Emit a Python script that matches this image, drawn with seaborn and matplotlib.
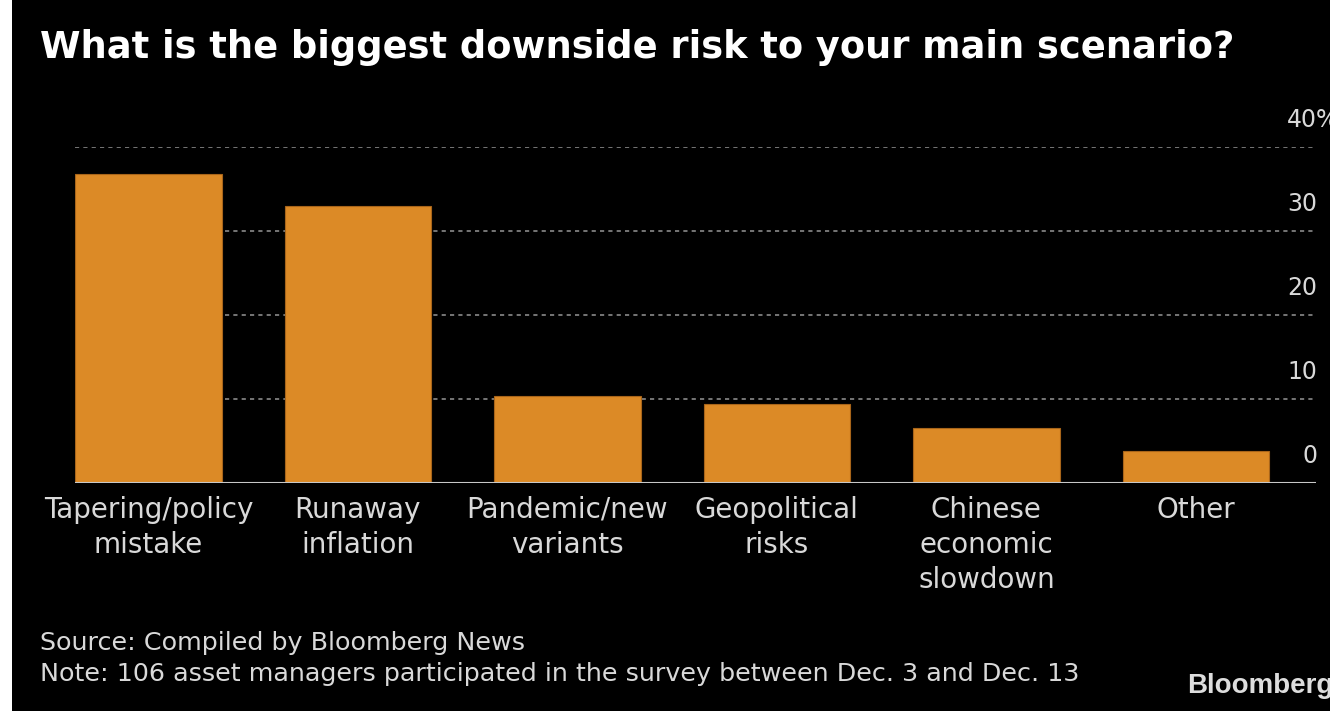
import matplotlib
matplotlib.use("Agg")
import matplotlib.pyplot as plt
import matplotlib.patches as mpatches
import matplotlib.transforms as mtrans
import seaborn as sns
import pandas as pd

categories = ["Tapering/policy\nmistake", "Runaway\ninflation", "Pandemic/new\nvariants",
              "Geopolitical\nrisks", "Chinese\neconomic\nslowdown", "Other"]
values = [36.8, 33.0, 10.4, 9.4, 6.6, 3.8]
yticks = [0, 10, 20, 30, 40]
ytick_labels = ["0", "10", "20", "30", "40%"]

title = "What is the biggest downside risk to your main scenario?"
source = "Source: Compiled by Bloomberg News"
note = "Note: 106 asset managers participated in the survey between Dec. 3 and Dec. 13"

sns.set_theme(style="dark")
plt.rcParams["font.family"] = ["DejaVu Sans"]

BG = "#000000"
BAR = "#dc8a26"
TXT = "#d9d9d9"

fig = plt.figure(figsize=(13.3, 7.11), dpi=100, facecolor=BG)
ax = fig.add_axes([75/1330, 228/711, (1316-75)/1330, 336/711])
ax.set_facecolor(BG)

df = pd.DataFrame({"cat": categories, "val": values})
sns.barplot(data=df, x="cat", y="val", color=BAR, width=0.70, saturation=1,
            edgecolor="#a8651a", linewidth=0.8, ax=ax, zorder=3)

ax.set_xlim(-0.35, 5.573)
ax.set_ylim(0, 40)
ax.set_xlabel("")
ax.set_ylabel("")
for s in ax.spines.values():
    s.set_visible(False)
ax.axhline(0, color="#c8c8c8", lw=1.5, zorder=4)
for t in yticks[1:]:
    ax.axhline(t, color="#8a8a8a", lw=1.2, ls=(0, (2.5, 2.5)), zorder=1)
ax.grid(False)
ax.set_yticks([])
ax.tick_params(axis="x", length=0, pad=9, colors=TXT, labelsize=20)
for lab in ax.get_xticklabels():
    lab.set_linespacing(1.32)
    lab.set_verticalalignment("top")

tr = mtrans.blended_transform_factory(fig.transFigure, ax.transData)
for t, lab in zip(yticks, ytick_labels):
    if lab.endswith("%"):
        ax.text(1287/1330, t + 1.8, lab, transform=tr, ha="left", va="bottom",
                color=TXT, fontsize=17)
    else:
        ax.text(1317/1330, t + 1.8, lab, transform=tr, ha="right", va="bottom",
                color=TXT, fontsize=17)

fig.text(40/1330, 1 - 47/711, title, ha="left", va="center", color="white",
         fontsize=26.5, fontweight="bold")
fig.text(40/1330, 1 - 643/711, source, ha="left", va="center", color=TXT,
         fontsize=18.3)
fig.text(40/1330, 1 - 674/711, note, ha="left", va="center", color=TXT,
         fontsize=18.3)
fig.text(1187/1330, 1 - 686/711, "Bloomberg", ha="left", va="center", color="#dddddd",
         fontsize=20, fontweight="bold", family=["Liberation Sans", "DejaVu Sans"])

fig.patches.append(mpatches.Rectangle((0, 0), 12/1330, 1, transform=fig.transFigure,
                                      facecolor="white", edgecolor="none", zorder=10))

fig.savefig("out.png", dpi=100, facecolor=BG)
